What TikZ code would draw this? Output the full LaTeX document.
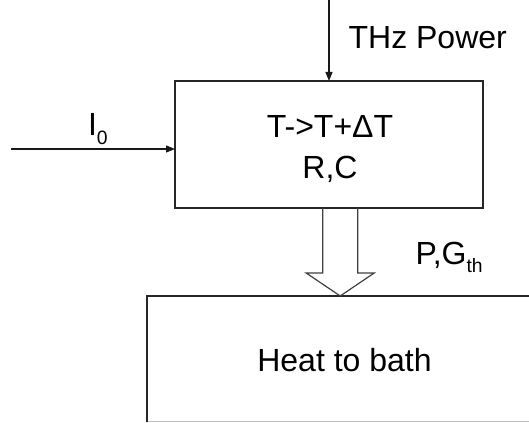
\documentclass[tikz,border=0pt]{standalone}
\usepackage{fontspec}
\setmainfont{Liberation Sans}
\usetikzlibrary{arrows.meta,calc}
\begin{document}
\begin{tikzpicture}[x=0.75pt,y=-0.75pt,
  boxstyle/.style={draw=black!85,line width=0.9pt,inner sep=0pt,outer sep=0pt,anchor=north west},
  lbl/.style={inner sep=0pt,outer sep=0pt,anchor=base west,font=\fontsize{24}{28}\selectfont},
  clbl/.style={inner sep=0pt,outer sep=0pt,anchor=base,font=\fontsize{24}{28}\selectfont},
  conn/.style={draw=black!90,line width=0.8pt,-{Triangle[length=6.75pt,width=5.25pt]}},
  edge/.style={draw=black!85,line width=0.9pt},
  faint/.style={draw=black!25,line width=0.9pt},
  fat/.style={draw=black!75,line width=0.9pt,line join=miter}]
\useasboundingbox (0,0) rectangle (529,423);
\fill[white] (0,0) rectangle (529,423);
% main box
\node[boxstyle,minimum width=231pt,minimum height=95.25pt] (sys) at (175,81) {};
\node[clbl] (eq) at (330,137.7) {T->T+ΔT};
\node[clbl] (rc) at (330,178.3) {R,C};
% bath box (cropped by picture edge)
\begin{scope}
\clip (0,0) rectangle (529,423);
\node[boxstyle,draw=none,minimum width=339.75pt,minimum height=94.4pt] (bath) at (147,296) {};
\draw[faint] (bath.south west) -- (bath.south east);
\draw[edge] (bath.south west) -- (bath.north west) -- (bath.north east);
\end{scope}
\node[clbl] (bathlbl) at (344.5,371.7) {Heat to bath};
% THz power input
\coordinate (thzstart) at (329,0);
\draw[conn] (thzstart) -- (sys.north);
\node[lbl] (thz) at (348.6,49) {THz Power};
% bias current input
\coordinate (istart) at (11,149);
\draw[conn] (istart) -- (istart -| sys.west);
\node[lbl] (izero) at (88,136) {I\raisebox{-6.5pt}{\fontsize{14.5}{16}\selectfont 0}};
% heat flow arrow
\coordinate (ftop) at (sys.south -| 340.2,0);
\coordinate (ftip) at (340.2,296);
\draw[fat] ($(ftop)+(-17.5,0)$) -- (322.7,273) -- (306.2,273) -- (ftip)
  -- (374.2,273) -- (357.7,273) -- ($(ftop)+(17.5,0)$);
\node[lbl] (pg) at (415.5,264.3) {P,G\raisebox{-6.5pt}{\fontsize{14.5}{16}\selectfont th}};
\end{tikzpicture}
\end{document}
